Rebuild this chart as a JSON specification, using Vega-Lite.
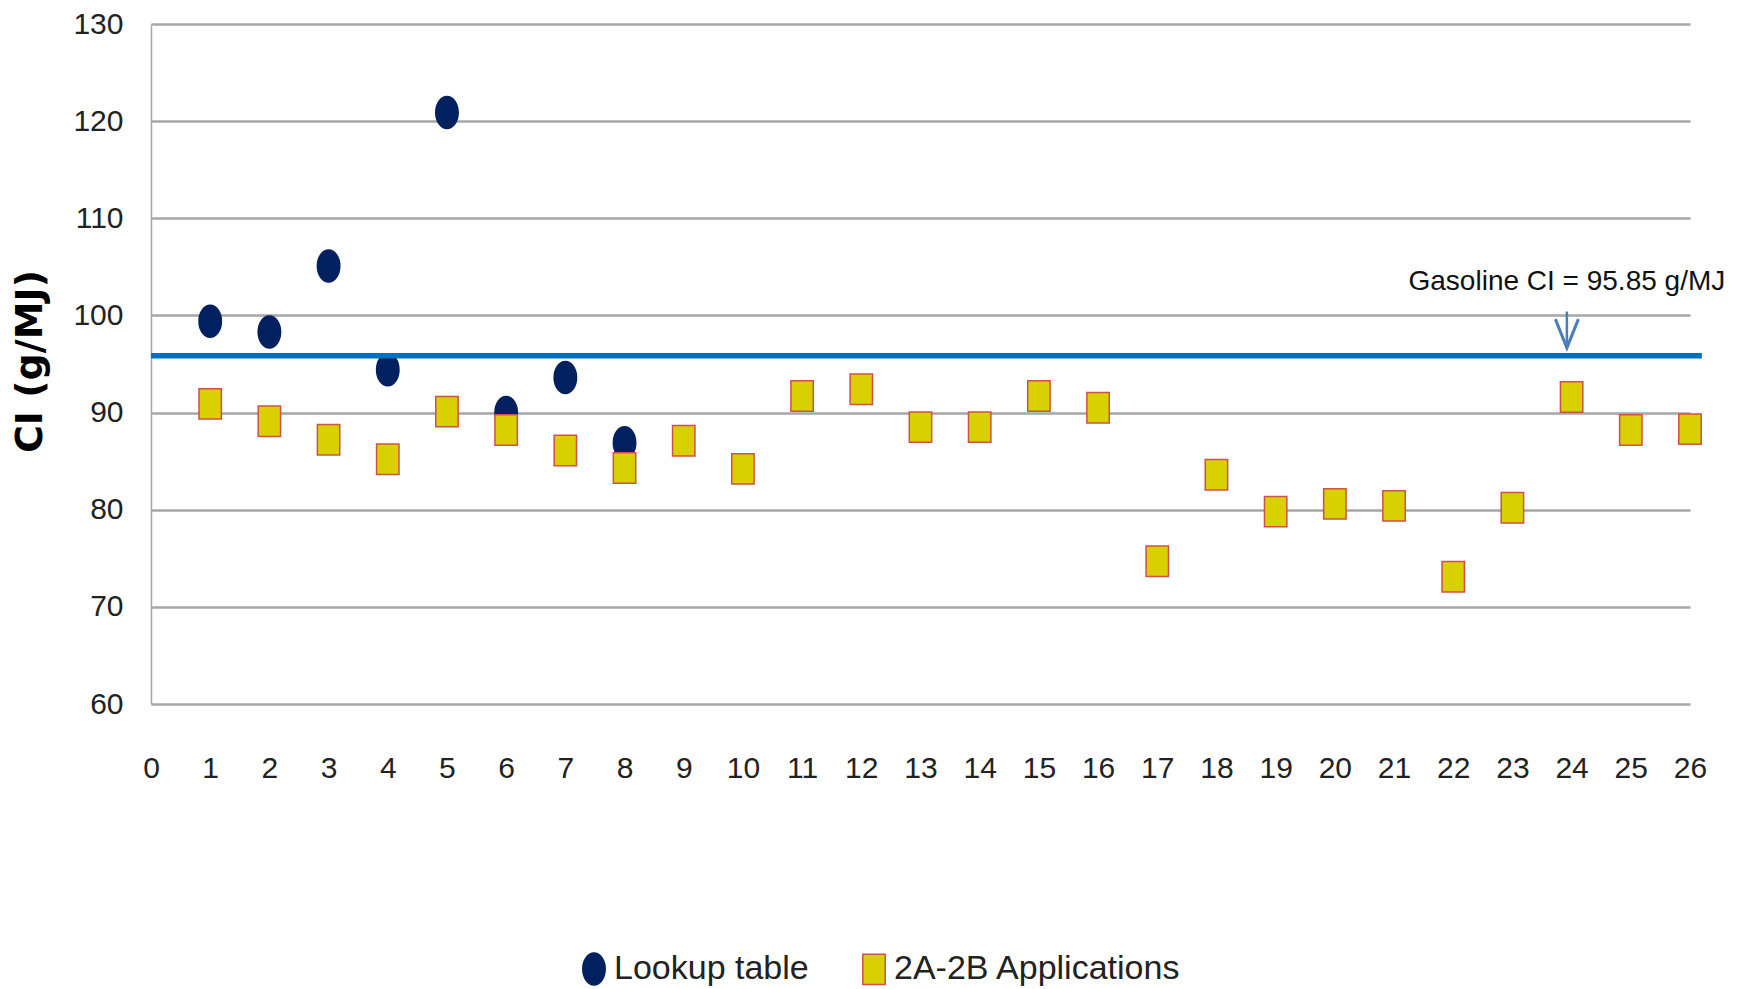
{
  "$schema": "https://vega.github.io/schema/vega-lite/v6.json",
  "width": 1539,
  "height": 680,
  "autosize": {"type": "none"},
  "padding": {"left": 151, "top": 24, "right": 54, "bottom": 285},
  "background": "white",
  "config": {"view": {"stroke": null}, "font": "Liberation Sans"},
  "datasets": {
    "points": [
      {"x": 1, "ci": 99.4, "series": "Lookup table"},
      {"x": 2, "ci": 98.3, "series": "Lookup table"},
      {"x": 3, "ci": 105.1, "series": "Lookup table"},
      {"x": 4, "ci": 94.4, "series": "Lookup table"},
      {"x": 5, "ci": 120.9, "series": "Lookup table"},
      {"x": 6, "ci": 90.0, "series": "Lookup table"},
      {"x": 7, "ci": 93.6, "series": "Lookup table"},
      {"x": 8, "ci": 86.9, "series": "Lookup table"},
      {"x": 1, "ci": 90.9, "series": "2A-2B Applications"},
      {"x": 2, "ci": 89.1, "series": "2A-2B Applications"},
      {"x": 3, "ci": 87.2, "series": "2A-2B Applications"},
      {"x": 4, "ci": 85.2, "series": "2A-2B Applications"},
      {"x": 5, "ci": 90.1, "series": "2A-2B Applications"},
      {"x": 6, "ci": 88.2, "series": "2A-2B Applications"},
      {"x": 7, "ci": 86.1, "series": "2A-2B Applications"},
      {"x": 8, "ci": 84.3, "series": "2A-2B Applications"},
      {"x": 9, "ci": 87.1, "series": "2A-2B Applications"},
      {"x": 10, "ci": 84.2, "series": "2A-2B Applications"},
      {"x": 11, "ci": 91.7, "series": "2A-2B Applications"},
      {"x": 12, "ci": 92.4, "series": "2A-2B Applications"},
      {"x": 13, "ci": 88.5, "series": "2A-2B Applications"},
      {"x": 14, "ci": 88.5, "series": "2A-2B Applications"},
      {"x": 15, "ci": 91.7, "series": "2A-2B Applications"},
      {"x": 16, "ci": 90.5, "series": "2A-2B Applications"},
      {"x": 17, "ci": 74.7, "series": "2A-2B Applications"},
      {"x": 18, "ci": 83.6, "series": "2A-2B Applications"},
      {"x": 19, "ci": 79.8, "series": "2A-2B Applications"},
      {"x": 20, "ci": 80.6, "series": "2A-2B Applications"},
      {"x": 21, "ci": 80.4, "series": "2A-2B Applications"},
      {"x": 22, "ci": 73.1, "series": "2A-2B Applications"},
      {"x": 23, "ci": 80.2, "series": "2A-2B Applications"},
      {"x": 24, "ci": 91.6, "series": "2A-2B Applications"},
      {"x": 25, "ci": 88.2, "series": "2A-2B Applications"},
      {"x": 26, "ci": 88.3, "series": "2A-2B Applications"}
    ],
    "gasoline": [{"x": 0, "x2": 26.2, "ci": 95.85}],
    "note": [{"x": 23.92, "top": 100.4, "tip": 96.66, "label_y": 103.44, "label": "Gasoline CI = 95.85 g/MJ"}]
  },
  "layer": [
    {
      "data": {"name": "points"},
      "mark": {"type": "point", "filled": true, "strokeWidth": 1.5, "opacity": 1, "size": 1024},
      "encoding": {
        "x": {
          "field": "x", "type": "quantitative", "title": null,
          "scale": {"domain": [0, 26], "nice": false, "zero": false},
          "axis": {
            "values": [0,1,2,3,4,5,6,7,8,9,10,11,12,13,14,15,16,17,18,19,20,21,22,23,24,25,26],
            "format": "d",
            "grid": false, "domain": false, "ticks": false, "tickSize": 0,
            "labelPadding": 49, "labelFontSize": 30, "labelColor": "#222",
            "labelFont": "Liberation Sans", "labelFlush": false, "labelOverlap": false
          }
        },
        "y": {
          "field": "ci", "type": "quantitative", "title": "CI (g/MJ)",
          "scale": {"domain": [60, 130], "nice": false, "zero": false},
          "axis": {
            "values": [60,70,80,90,100,110,120,130],
            "format": "d",
            "grid": true, "gridColor": "#a6a6a6", "gridWidth": 2.5,
            "domain": true, "domainColor": "#a6a6a6", "domainWidth": 1.5,
            "ticks": false, "tickSize": 0, "labelPadding": 28,
            "labelFontSize": 30, "labelColor": "#222", "labelFont": "Liberation Sans",
            "titleFont": "DejaVu Sans", "titleFontWeight": "bold", "titleFontSize": 38,
            "titleColor": "#000", "titleX": -121, "titleY": 337, "titleAngle": -90,
            "titleAlign": "center", "titleBaseline": "middle"
          }
        },
        "shape": {
          "field": "series", "type": "nominal",
          "scale": {"domain": ["Lookup table", "2A-2B Applications"],
                    "range": ["M0,-1 A0.7,1 0 1,1 0,1 A0.7,1 0 1,1 0,-1 Z", "M-0.7,-0.95 L0.7,-0.95 L0.7,0.95 L-0.7,0.95 Z"]},
          "legend": {"title": null, "orient": "none", "legendX": 426, "legendY": 928, "direction": "horizontal",
                     "symbolSize": 1024, "labelFontSize": 34, "labelFont": "Liberation Sans", "labelColor": "#222",
                     "labelOffset": 3, "columnPadding": 48, "padding": 0, "symbolStrokeWidth": 1.5, "labelLimit": 0}
        },
        "fill": {
          "field": "series", "type": "nominal",
          "scale": {"domain": ["Lookup table", "2A-2B Applications"], "range": ["#002060", "#d8d000"]},
          "legend": {"title": null, "orient": "none", "legendX": 426, "legendY": 928, "direction": "horizontal",
                     "symbolSize": 1024, "labelFontSize": 34, "labelFont": "Liberation Sans", "labelColor": "#222",
                     "labelOffset": 3, "columnPadding": 48, "padding": 0, "symbolStrokeWidth": 1.5, "labelLimit": 0}
        },
        "stroke": {
          "field": "series", "type": "nominal",
          "scale": {"domain": ["Lookup table", "2A-2B Applications"], "range": ["#002060", "#d0504a"]},
          "legend": {"title": null, "orient": "none", "legendX": 426, "legendY": 928, "direction": "horizontal",
                     "symbolSize": 1024, "labelFontSize": 34, "labelFont": "Liberation Sans", "labelColor": "#222",
                     "labelOffset": 3, "columnPadding": 48, "padding": 0, "symbolStrokeWidth": 1.5, "labelLimit": 0}
        }
      }
    },
    {
      "data": {"name": "gasoline"},
      "mark": {"type": "rule", "color": "#0070c0", "strokeWidth": 5.5},
      "encoding": {
        "x": {"field": "x", "type": "quantitative", "title": null},
        "x2": {"field": "x2"},
        "y": {"field": "ci", "type": "quantitative", "title": "CI (g/MJ)"}
      }
    },
    {
      "data": {"name": "note"},
      "mark": {"type": "rule", "color": "#4a7ebb", "strokeWidth": 2.5},
      "encoding": {
        "x": {"field": "x", "type": "quantitative", "title": null},
        "y": {"field": "top", "type": "quantitative", "title": "CI (g/MJ)"},
        "y2": {"field": "tip"}
      }
    },
    {
      "data": {"name": "note"},
      "mark": {"type": "point", "shape": "M-0.8,-2 L0,0 L0.8,-2", "filled": false, "size": 829, "strokeWidth": 3, "color": "#4a7ebb", "opacity": 1},
      "encoding": {
        "x": {"field": "x", "type": "quantitative", "title": null},
        "y": {"field": "tip", "type": "quantitative", "title": "CI (g/MJ)"}
      }
    },
    {
      "data": {"name": "note"},
      "mark": {"type": "text", "font": "Liberation Sans", "fontSize": 28, "color": "#111", "align": "center", "baseline": "middle"},
      "encoding": {
        "x": {"field": "x", "type": "quantitative", "title": null},
        "y": {"field": "label_y", "type": "quantitative", "title": "CI (g/MJ)"},
        "text": {"field": "label"}
      }
    }
  ]
}
